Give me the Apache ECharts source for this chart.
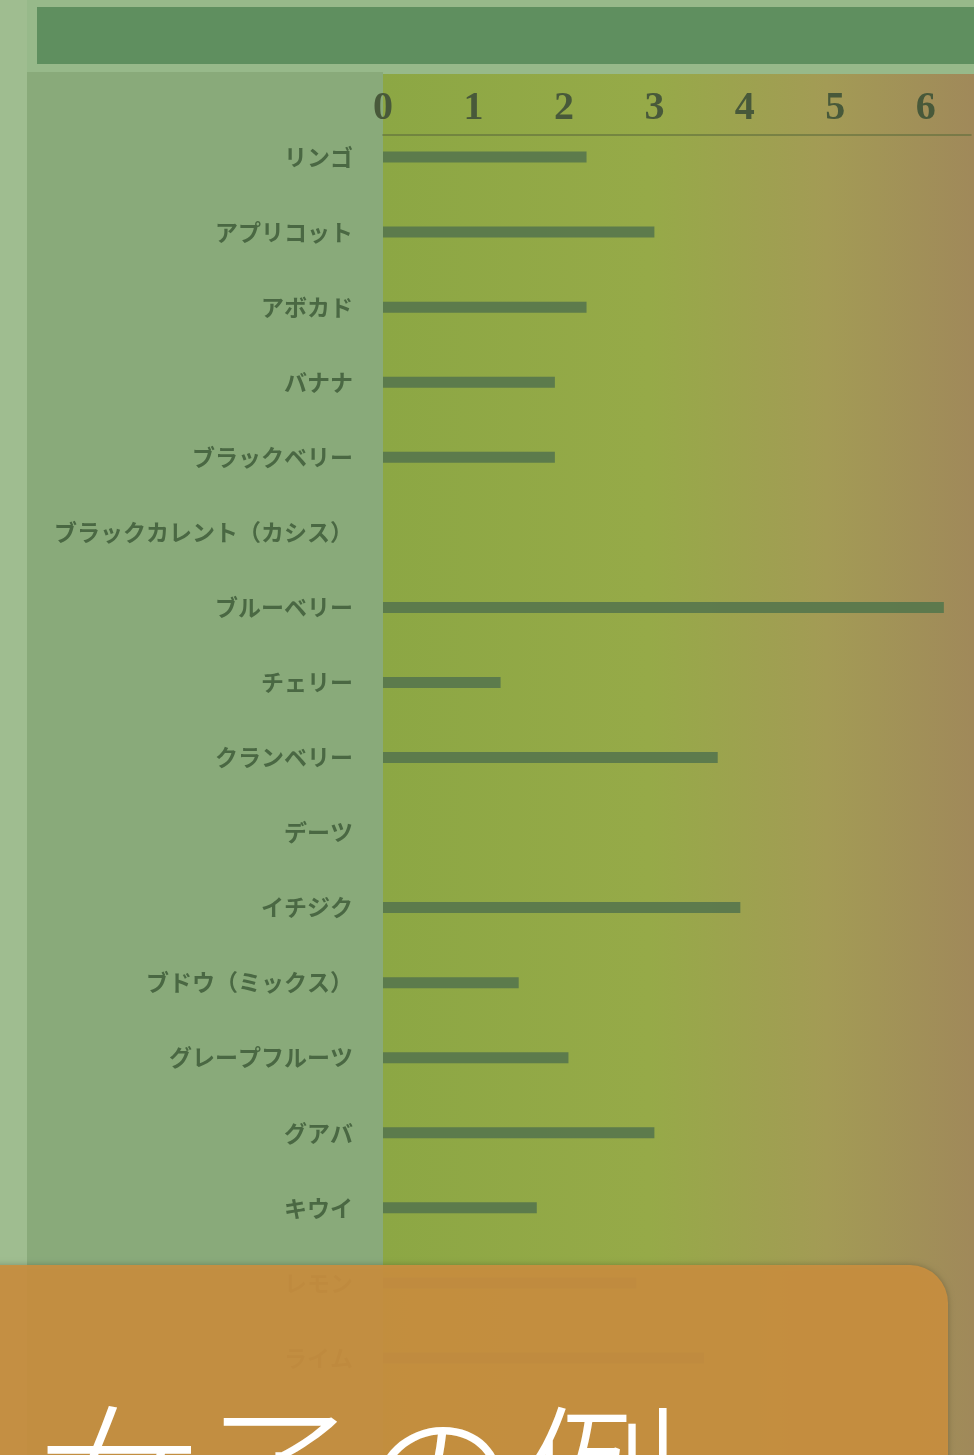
<!DOCTYPE html>
<html>
<head>
<meta charset="utf-8">
<script src="https://cdn.jsdelivr.net/npm/echarts@6/dist/echarts.min.js"></script>
<style>
  html, body { margin: 0; padding: 0; background: #97b98a; }
  #chart { width: 974px; height: 1455px; }
</style>
</head>
<body>
<div id="chart"></div>
<script>
// Fruit list and bar values (servings), top to bottom
const categories = [
  'リンゴ', 'アプリコット', 'アボカド', 'バナナ', 'ブラックベリー',
  'ブラックカレント（カシス）', 'ブルーベリー', 'チェリー', 'クランベリー', 'デーツ',
  'イチジク', 'ブドウ（ミックス）', 'グレープフルーツ', 'グアバ', 'キウイ',
  'レモン', 'ライム'
];
const values = [
  2.25, 3.0, 2.25, 1.9, 1.9,
  0, 6.2, 1.3, 3.7, 0,
  3.95, 1.5, 2.05, 3.0, 1.7,
  2.8, 3.55
];
const tickValues = [0, 1, 2, 3, 4, 5, 6];
const captionText = 'た女子の例';

const chart = echarts.init(document.getElementById('chart'), null, { renderer: 'canvas' });

const option = {
  animation: false,
  backgroundColor: '#97b98a',
  grid: { left: 383, right: 0, top: 119.5, bottom: 59.5, containLabel: false },
  xAxis: {
    type: 'value',
    position: 'top',
    offset: -15.5,
    min: 0,
    max: 6.5,
    interval: 1,
    axisLine: { show: true, lineStyle: { color: '#5f6e3c', width: 1.5, opacity: 0.8 } },
    axisTick: { show: false },
    splitLine: { show: false },
    axisLabel: {
      margin: 6,
      color: '#48593a',
      fontFamily: 'Liberation Serif',
      fontWeight: 'bold',
      fontSize: 40,
      formatter: v => (tickValues.indexOf(v) >= 0 ? String(v) : '')
    }
  },
  yAxis: {
    type: 'category',
    inverse: true,
    data: categories,
    axisLine: { show: false },
    axisTick: { show: false },
    splitLine: { show: false },
    axisLabel: {
      margin: 30,
      color: '#4a6843',
      fontFamily: 'Noto Sans CJK JP',
      fontWeight: 'bold',
      fontSize: 23
    }
  },
  series: [{
    type: 'bar',
    data: values,
    barWidth: 11,
    itemStyle: { color: '#5a784d', opacity: 0.95 },
    z: 3
  }],
  graphic: [
    // page panels
    { type: 'rect', z: -20, silent: true, shape: { x: 0, y: 0, width: 27, height: 1455 }, style: { fill: '#9fbd90' } },
    { type: 'rect', z: -20, silent: true, shape: { x: 27, y: 72, width: 356, height: 1383 }, style: { fill: '#89aa7a' } },
    { type: 'rect', z: -20, silent: true, shape: { x: 37, y: 7, width: 937, height: 57 }, style: { fill: '#5f8f5f' } },
    // plot area background
    {
      type: 'rect', z: -20, silent: true,
      shape: { x: 383, y: 74, width: 591, height: 1381 },
      style: {
        fill: new echarts.graphic.LinearGradient(0, 0, 1, 0, [
          { offset: 0, color: '#8ca744' },
          { offset: 0.45, color: '#96aa48' },
          { offset: 0.75, color: '#a39b55' },
          { offset: 1, color: '#a0895a' }
        ])
      }
    },
    // caption panel
    {
      type: 'rect', z: 100, silent: true,
      shape: { x: -20, y: 1265, width: 968, height: 220, r: [0, 38, 0, 0] },
      style: { fill: '#c98f40', opacity: 0.93, shadowBlur: 6, shadowColor: 'rgba(0,0,0,0.25)' }
    },
    {
      type: 'text', z: 101, silent: true,
      x: -121, y: 1399,
      style: {
        text: captionText,
        fill: '#ffffff',
        font: '300 160px "Noto Sans CJK JP"',
        align: 'left',
        verticalAlign: 'top'
      }
    }
  ]
};

chart.setOption(option);
</script>
</body>
</html>
